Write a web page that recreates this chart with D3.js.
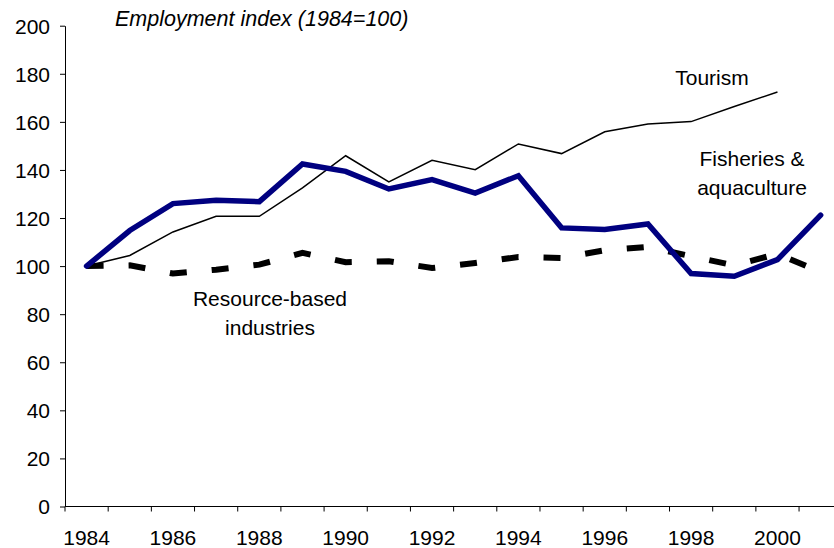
<!DOCTYPE html>
<html>
<head>
<meta charset="utf-8">
<script src="https://cdn.jsdelivr.net/npm/d3@7/dist/d3.min.js"></script>
<style>
  html, body { margin: 0; padding: 0; background: #fff; }
  svg { display: block; font-family: "Liberation Sans", Arial, sans-serif; }
</style>
</head>
<body>
<svg id="chart" width="834" height="548"></svg>
<script>
// employment index, 1984 = 100
const years = [1984, 1985, 1986, 1987, 1988, 1989, 1990, 1991, 1992,
               1993, 1994, 1995, 1996, 1997, 1998, 1999, 2000, 2001];
const tourism = [100, 104.4, 114.2, 120.7, 120.7, 132.5, 145.9, 135.0, 144.0,
                 140.1, 150.8, 146.8, 155.9, 159.1, 160.1, 166.4, 172.4, null];
const fisheries = [100, 114.8, 126.0, 127.4, 126.8, 142.5, 139.4, 132.1, 136.0,
                   130.4, 137.6, 115.9, 115.2, 117.5, 96.9, 95.8, 102.7, 121.2];
const resource = [100, 100.3, 96.9, 98.5, 100.6, 105.5, 101.6, 102.0, 99.2,
                  101.3, 103.8, 103.4, 106.6, 108.0, 104.1, 100.3, 105.1, 97.5];
const yTicks = [0, 20, 40, 60, 80, 100, 120, 140, 160, 180, 200];
const xLabels = years.filter(y => y % 2 === 0 && y <= 2000);

const svg = d3.select('#chart');

// plot area runs past the right edge of the picture, as in the original
const x = d3.scaleBand().domain(years).range([65, 65 + 18 * 43.18]).padding(0);
const y = d3.scaleLinear().domain([0, 200]).range([506.5, 25.7]);
const cx = yr => x(yr) + x.bandwidth() / 2;

// y axis
const yAxis = svg.append('g')
  .attr('transform', 'translate(65,0)')
  .call(d3.axisLeft(y).tickValues(yTicks).tickSize(5).tickSizeOuter(0).tickPadding(10));
yAxis.select('.domain').attr('stroke', '#000').attr('stroke-width', 1);
yAxis.selectAll('.tick line').attr('stroke', '#000');
yAxis.selectAll('.tick text').attr('font-size', 21).attr('fill', '#000').attr('dy', '0.35em');

// x axis: tick marks sit between categories, labels every other year
const xAxis = svg.append('g').attr('transform', 'translate(0,506.5)');
xAxis.append('line')
  .attr('x1', x.range()[0]).attr('x2', x.range()[1])
  .attr('stroke', '#000').attr('stroke-width', 1.2);
xAxis.selectAll('.xtick')
  .data(years)
  .join('line')
  .attr('class', 'xtick')
  .attr('x1', d => x(d)).attr('x2', d => x(d))
  .attr('y1', 0).attr('y2', 5)
  .attr('stroke', '#000');
xAxis.selectAll('.xlabel')
  .data(xLabels)
  .join('text')
  .attr('class', 'xlabel')
  .attr('x', d => cx(d))
  .attr('y', 38)
  .attr('text-anchor', 'middle')
  .attr('font-size', 21)
  .text(d => d);

// lines
const line = d3.line()
  .defined(d => d[1] != null)
  .x(d => cx(d[0]))
  .y(d => y(d[1]));

const series = [
  { values: tourism, stroke: '#000', width: 1.5, dash: null, cap: 'butt' },
  { values: resource, stroke: '#000', width: 6, dash: '17,25', cap: 'butt' },
  { values: fisheries, stroke: '#000080', width: 5.5, dash: null, cap: 'round' }
];

series.forEach(s => {
  svg.append('path')
    .datum(years.map((yr, i) => [yr, s.values[i]]))
    .attr('d', line)
    .attr('fill', 'none')
    .attr('stroke', s.stroke)
    .attr('stroke-width', s.width)
    .attr('stroke-dasharray', s.dash)
    .attr('stroke-linecap', s.cap)
    .attr('stroke-linejoin', 'miter');
});

// title and series labels
svg.append('text')
  .attr('x', 115).attr('y', 26)
  .attr('font-size', 21.5).attr('font-style', 'italic')
  .text('Employment index (1984=100)');

const labels = [
  { lines: ['Tourism'], x: 712, y: 85 },
  { lines: ['Fisheries &', 'aquaculture'], x: 752, y: 166 },
  { lines: ['Resource-based', 'industries'], x: 270, y: 306 }
];
labels.forEach(l => {
  const t = svg.append('text')
    .attr('text-anchor', 'middle')
    .attr('font-size', 21);
  l.lines.forEach((s, i) => {
    t.append('tspan').attr('x', l.x).attr('y', l.y + i * 29).text(s);
  });
});
</script>
</body>
</html>
